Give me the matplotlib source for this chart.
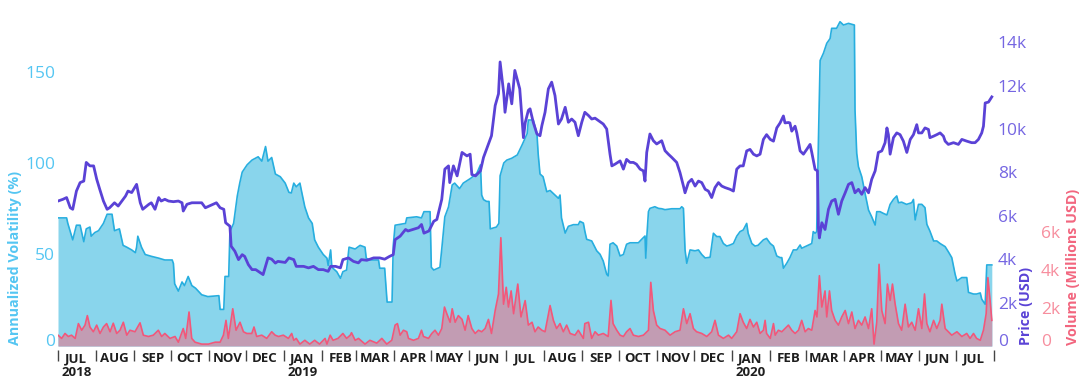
import numpy as np
import pandas as pd
import matplotlib
matplotlib.use('Agg')
import matplotlib.pyplot as plt
from matplotlib.transforms import ScaledTranslation

plt.rcParams['font.family'] = ['Open Sans', 'DejaVu Sans']

start = pd.Timestamp('2018-07-01')

# (days since 2018-07-01, annualized volatility %)
vol_pts = [
    (0, 70), (7, 70), (8, 67), (12, 58), (15, 66), (18, 66), (21, 57), (23, 64), (26, 65), (27, 60),
    (30, 62), (33, 63), (37, 67), (40, 72), (44, 72), (46, 63), (50, 64), (53, 55), (56, 54), (60, 52.5),
    (63, 51), (64, 54), (65, 60), (68, 54), (71, 50), (76, 49), (82, 48), (87, 47), (93, 47), (94, 45),
    (95, 34), (98, 30), (101, 35), (103, 33), (106, 38), (109, 33), (112, 31.6), (117, 28), (122, 27),
    (131, 27.5), (132, 20), (135, 20), (136, 38), (139, 38), (140, 62.5), (143, 67), (146, 82), (148, 89),
    (150, 95), (154, 99), (158, 101.6), (163, 103.4), (166, 101), (169, 109), (171, 101), (174, 103),
    (177, 94), (181, 92.5), (185, 89), (188, 84), (190, 83.6), (192, 89), (194, 87), (197, 89), (198.5, 84),
    (201, 76), (204, 70), (207, 67), (209, 58), (212, 54), (216, 50), (219, 48), (220, 44), (222, 52.5),
    (223, 43), (227, 40.6), (230, 37), (232, 40.6), (235, 41.5), (237, 54), (242, 53), (246, 55), (250, 54),
    (251, 48), (254, 47), (261, 47), (262, 42.5), (266, 42.5), (268, 24), (272, 24), (273, 55), (274.5, 66),
    (283, 67), (284, 70), (292, 70.6), (296, 70), (298, 73.4), (303, 73.4), (304, 43), (306, 41.5), (311, 43),
    (312.5, 53), (315, 70.6), (318, 76), (321, 88), (323, 89), (327, 86), (330, 89), (336, 91.6), (341, 94.3),
    (344, 99), (345, 82.5), (346.5, 80), (349, 79), (351, 79), (352, 64), (357, 65), (359, 67), (360, 93),
    (363, 100), (365.5, 101.6), (369.5, 102.6), (374, 104.4), (378, 110), (382, 116), (383, 123.5),
    (387, 123.5), (390, 116), (391, 105), (392.5, 94), (395, 92.5), (398, 84.3), (400.7, 85), (404.7, 82.5),
    (407.5, 80.7), (408.8, 82.5), (410, 70), (413, 61.7), (415.6, 65.4), (419.7, 66.3), (423.7, 66.3),
    (425, 68.1), (427.8, 67.2), (429, 62.8), (430.5, 58.3), (434.6, 57.4), (438.7, 52), (441.4, 50.1),
    (444, 46.4), (446.8, 39.2), (448, 38.3), (449.5, 55.6), (452, 56.4), (455, 54.6), (457.7, 49.2),
    (460.4, 50), (463, 55.6), (465.8, 56.4), (472.6, 56.4), (475.3, 58.3), (478, 60.1), (478.6, 48),
    (479.5, 60), (480.8, 73.4), (482, 75.2), (486, 76.1), (489, 75.2), (491.6, 75), (494.3, 74.5),
    (499.8, 75), (506.5, 75), (507.9, 76.1), (509.3, 75.2), (510.6, 52.5), (512, 45.2), (514.7, 52.5),
    (518.8, 52), (521.5, 52.5), (524.2, 50), (527, 48.1), (531, 48.5), (533.7, 61.6), (536.4, 59.8),
    (539, 59.8), (541.8, 56), (544.6, 54.6), (547.3, 55.2), (550, 56), (552.7, 60), (555.4, 62.5),
    (558, 63.4), (560.8, 67), (562, 61.6), (565, 56), (567.6, 54.6), (570, 55), (574.4, 58), (577, 58.8),
    (580, 56), (582.6, 54.6), (585.3, 49.2), (588, 48.3), (589.4, 48.3), (590.7, 42.5), (593.4, 45.2),
    (596, 48.3), (598.8, 52.5), (601.6, 52.5), (604.3, 55.2), (605.6, 53.4), (608.4, 54.3), (611, 55.2),
    (613.8, 56), (615, 62.5), (616.5, 61.6), (617.8, 62.5), (619.2, 111.8), (620.6, 156), (623.3, 160),
    (626, 165.4), (628.7, 168), (630, 173.6), (634, 173.6), (636.8, 177.2), (639.6, 175.4), (643.7, 176.3),
    (648.5, 175.4), (649, 129), (650.4, 105.3), (651.8, 98), (654.5, 92.5), (657.2, 83.4), (660, 74.3),
    (662.6, 70.6), (665.4, 66.1), (666.7, 73.4), (669.4, 73.4), (672, 72.5), (675, 71.6), (677.6, 77.4),
    (680.3, 80.1), (683, 82), (684.4, 78.3), (687, 78.6), (691, 77.4), (695.2, 78.3), (696.6, 80.1),
    (698, 68.9), (700.7, 77.4), (703.4, 77.4), (706, 75.6), (707.5, 66.5), (710, 62.8), (713, 57.4),
    (715.6, 57.4), (718.3, 56), (722.4, 54.3), (725, 51.5), (727.8, 48.3), (730.5, 39.3), (732, 35.5),
    (736, 37.4), (740, 37.4), (741.4, 29.3), (745.5, 28.4), (748, 28.4), (751, 29), (752.2, 25.6),
    (755, 22.8), (756.3, 44.3), (760.4, 44.3),
]

# (days since 2018-07-01, price in thousand USD)
price_pts = [
    (0, 6.68), (4, 6.76), (7, 6.84), (10, 6.37), (12, 6.30), (15, 7.14), (18, 7.53), (21, 7.6), (23, 8.46),
    (26, 8.3), (29, 8.3), (31.5, 7.69), (34, 7.22), (37, 6.68), (40, 6.30), (42, 6.37), (46, 6.6), (49, 6.45),
    (52, 6.68), (55, 6.91), (57, 7.14), (60, 7.07), (64, 7.45), (67, 6.6), (69, 6.30), (74, 6.53), (76, 6.6),
    (79, 6.3), (82, 6.84), (84, 6.68), (87, 6.76), (90, 6.68), (94, 6.65), (98, 6.68), (101, 6.6), (102, 6.22),
    (105, 6.53), (109, 6.6), (117, 6.6), (120, 6.37), (125, 6.5), (129, 6.6), (132, 6.37), (135, 6.3),
    (136.5, 5.68), (140, 5.52), (141, 4.6), (144, 4.37), (147, 3.98), (150, 4.21), (152, 4.13), (155, 3.75),
    (158, 3.52), (161, 3.52), (165, 3.37), (167, 3.29), (169, 3.67), (171, 4.06), (174, 4.0), (177, 3.82),
    (179, 3.9), (185, 3.85), (188, 4.06), (192, 3.98), (194, 3.67), (200, 3.67), (204, 3.6), (208, 3.67),
    (212, 3.52), (216, 3.52), (220, 3.44), (222, 3.67), (226, 3.67), (230, 3.6), (232, 3.98), (236.5, 4.06),
    (240.6, 3.9), (244.6, 3.83), (247, 3.98), (251.5, 3.95), (257, 4.06), (262, 4.06), (266, 4.0), (270, 4.13),
    (273, 4.21), (274.5, 4.9), (278.6, 5.06), (283, 5.37), (285, 5.3), (289, 5.37), (293.5, 5.45), (296, 5.6),
    (298, 5.2), (302, 5.3), (306, 5.75), (308.5, 5.83), (312.5, 6.76), (315, 8.15), (318, 8.3), (319, 7.53),
    (322, 8.3), (325, 7.84), (329, 8.92), (333, 8.76), (335.6, 8.84), (337, 7.9), (340, 7.84), (344, 8.07),
    (346.5, 8.69), (350.5, 9.3), (353, 9.69), (356, 11.08), (358.7, 11.62), (360, 13.09), (363, 11.62),
    (364, 10.77), (367, 12.08), (369.5, 11.16), (372, 12.7), (376, 11.85), (379, 9.6), (380.5, 10.3),
    (383, 10.86), (384.4, 10.93), (387, 10.31), (390, 9.77), (392.5, 9.69), (394, 10.15), (396.6, 10.77),
    (399.3, 11.85), (402, 12.16), (404.7, 11.54), (407.5, 10.23), (410, 10.46), (413, 11.0), (415.6, 10.31),
    (418.3, 10.46), (421, 10.31), (423.7, 9.69), (426.5, 10.31), (429, 10.77), (432, 10.62), (434.6, 10.46),
    (437.3, 10.5), (440, 10.39), (444, 10.23), (446.8, 10.0), (449.5, 8.84), (451, 8.3), (453.6, 8.38),
    (457.7, 8.53), (460.4, 8.15), (463, 8.6), (465.8, 8.46), (468.5, 8.46), (471, 8.38), (474, 8.15),
    (476.7, 8.07), (478, 7.6), (479.4, 8.92), (482, 9.77), (484.8, 9.46), (487.5, 9.31), (491.6, 9.46),
    (494.3, 9.0), (497, 8.84), (499.8, 8.69), (503.8, 8.46), (506.5, 7.99), (509.3, 7.37), (510.6, 7.06),
    (513.3, 7.53), (516, 7.68), (518.8, 7.37), (521.5, 7.6), (524.2, 7.53), (527, 7.22), (529.6, 7.14),
    (532.3, 6.84), (535, 7.3), (537.8, 7.53), (540.5, 7.37), (543.2, 7.3), (547.3, 7.22), (550, 7.14),
    (552.7, 8.15), (555.4, 8.3), (558, 8.3), (560.8, 8.99), (563.5, 9.06), (566.3, 8.84), (569, 8.76),
    (571.7, 8.84), (574.4, 9.52), (577, 9.74), (580, 9.52), (582.6, 9.44), (585.3, 10.05), (588, 10.28),
    (590.7, 10.6), (592, 10.28), (594.8, 10.3), (596, 10.28), (597.5, 9.9), (600.2, 10.13), (601.6, 9.82),
    (604.3, 8.99), (607, 8.84), (609.7, 9.06), (612.4, 9.29), (613.8, 8.92), (616.5, 8.14), (618.4, 8.07),
    (619.2, 5.44), (620, 4.98), (622, 5.68), (624.6, 5.37), (627.4, 6.3), (630, 6.68), (632.8, 6.76),
    (635.5, 6.07), (638.2, 6.68), (641, 7.06), (643.7, 7.45), (646.4, 7.53), (649, 7.06), (651.8, 7.22),
    (654.5, 6.99), (657.2, 7.3), (660, 7.06), (662.6, 7.68), (665.4, 8.07), (668, 8.92), (670.8, 8.99),
    (673.5, 9.37), (675, 10.05), (676.2, 9.74), (677.6, 8.84), (680.3, 9.6), (683, 9.82), (685.7, 9.74),
    (688.4, 9.44), (691.2, 8.92), (694, 9.52), (696.6, 9.74), (699.3, 10.2), (700.7, 9.82), (703.4, 9.82),
    (706, 10.05), (708.8, 9.98), (710, 9.6), (713, 9.67), (715.6, 9.74), (718.3, 9.82), (721, 9.67),
    (722.4, 9.44), (725, 9.29), (729.2, 9.37), (733.2, 9.29), (736, 9.52), (740, 9.44), (744, 9.37),
    (746.8, 9.37), (749.5, 9.52), (752.2, 9.82), (753.6, 10.13), (755, 11.2), (757.7, 11.24), (760.4, 11.48),
]

# (days since 2018-07-01, volume in thousand million USD)
volume_pts = [
    (0, 0.57), (3, 0.4), (5.7, 0.66), (8.4, 0.5), (11, 0.57), (14, 0.4), (16.6, 1.18), (19.3, 0.83), (22, 1.1),
    (23.9, 1.6), (26, 1.0), (28.8, 0.75), (31.5, 1.1), (34.2, 0.66), (37, 1.0), (39.6, 1.18), (42.4, 0.75),
    (45, 1.2), (47.8, 0.66), (50.5, 0.83), (53.2, 1.25), (56, 0.57), (58.6, 0.83), (62.7, 0.75), (66.8, 1.22),
    (69.5, 0.57), (73.6, 0.5), (77.6, 0.57), (81.7, 0.83), (84.4, 0.5), (87, 0.66), (91.2, 0.4), (95.3, 0.5),
    (98, 0.2), (102, 0.92), (104, 0.4), (106.7, 1.79), (108.9, 0.4), (111.6, 0.2), (117, 0.1), (122.5, 0.1),
    (128, 0.2), (132, 0.2), (134.7, 0.57), (136.8, 1.35), (138.7, 0.4), (142.3, 1.96), (145, 0.83),
    (148.2, 1.25), (151, 0.75), (153.7, 0.66), (157.8, 0.66), (159.6, 1.0), (161.8, 0.5), (165.9, 0.57),
    (170, 0.4), (174, 0.75), (176.8, 0.57), (179.5, 0.5), (183.5, 0.57), (187.6, 0.4), (190.3, 0.66),
    (192, 0.3), (194, 0.4), (197, 0.1), (201, 0.3), (205, 0.1), (209, 0.3), (213, 0.1), (217.5, 0.4),
    (219, 0.1), (221.6, 0.57), (224, 0.3), (228, 0.4), (232, 0.66), (235, 0.4), (238, 0.57), (239, 0.7),
    (242, 0.3), (244.7, 0.4), (250, 0.1), (254, 0.3), (259.6, 0.15), (263.7, 0.4), (267.7, 0.1), (271.8, 0.3),
    (274.5, 1.1), (276.4, 1.18), (278.6, 0.57), (281.3, 0.83), (284, 0.75), (285.4, 0.4), (289.5, 0.3),
    (293.5, 0.4), (296, 0.83), (297.6, 0.5), (301.7, 0.4), (304.4, 0.66), (307, 0.83), (309.8, 0.57),
    (312.5, 0.92), (314.7, 2.05), (316.6, 1.7), (319.3, 1.25), (321, 1.96), (323.4, 1.25), (326, 1.6),
    (329, 1.4), (331.5, 0.83), (334, 1.6), (337, 0.92), (339.7, 0.66), (342.4, 0.83), (345, 0.75),
    (347.8, 0.92), (350.5, 1.4), (353, 0.66), (356, 1.87), (358.7, 2.74), (360.6, 5.7), (362.8, 2.2),
    (365, 3.09), (366.8, 2.05), (369, 2.9), (371, 1.7), (374.4, 3.26), (377, 1.53), (380.4, 2.39),
    (383, 1.1), (386, 1.25), (388.4, 0.75), (391, 1.0), (394, 0.83), (396.6, 0.75), (400.7, 2.13),
    (403.4, 1.35), (406, 0.92), (408.8, 1.18), (411.5, 0.75), (414.2, 1.1), (417, 0.66), (421, 0.57),
    (423.7, 0.83), (427.8, 0.4), (429, 1.18), (432, 1.25), (434.6, 0.4), (437.3, 0.75), (440, 0.57),
    (444, 0.66), (448, 0.5), (450.3, 2.4), (452, 1.18), (455, 0.83), (457.7, 0.57), (460.4, 0.5), (463, 0.75),
    (465.8, 0.92), (468.5, 0.57), (472.6, 0.5), (476.7, 0.57), (480.8, 0.83), (482.7, 3.35), (484.8, 1.87),
    (487.5, 1.1), (490.3, 0.92), (494.3, 0.83), (498.4, 0.57), (502.5, 0.75), (506.5, 0.83), (509.3, 1.96),
    (512, 1.18), (514.7, 1.7), (517.4, 0.92), (520, 0.75), (524.2, 0.66), (528.3, 0.5), (532.3, 0.75),
    (535, 1.35), (537.8, 0.57), (541.8, 0.4), (546, 0.57), (548.6, 0.4), (552.7, 0.75), (555.4, 1.7),
    (558, 1.25), (560.8, 0.92), (563.5, 1.4), (566.3, 1.0), (569, 1.25), (571.7, 0.66), (574.4, 0.83),
    (575.8, 1.35), (577, 0.66), (580, 0.4), (582.6, 1.18), (584, 0.57), (586.6, 0.83), (589.4, 0.75),
    (592, 0.92), (594.8, 1.1), (597.5, 0.83), (600.2, 0.66), (603, 0.83), (605.6, 1.35), (608.4, 0.75),
    (611, 0.92), (613.8, 0.83), (616.5, 1.87), (618, 1.53), (620, 3.7), (622, 2.05), (624.6, 2.9), (626, 1.53),
    (628.2, 2.9), (630, 1.87), (632.8, 1.35), (635.5, 1.1), (638.2, 1.53), (641, 1.87), (643.7, 1.18),
    (646.4, 1.79), (649, 0.92), (651.8, 1.35), (654.5, 1.1), (657.2, 1.53), (660, 0.92), (662.6, 1.96),
    (664.5, 0.1), (666.7, 1.25), (668.6, 4.3), (670.8, 1.87), (673.5, 1.18), (675.4, 3.26), (677.6, 2.4),
    (679.5, 3.26), (681.7, 2.2), (684.4, 1.18), (687, 0.83), (689.8, 2.2), (692.5, 1.0), (695.2, 1.25),
    (698, 0.83), (700.7, 1.96), (703.4, 0.92), (705.6, 2.74), (707.5, 1.18), (710, 0.75), (713, 1.35),
    (715.6, 0.92), (718.3, 1.35), (719.7, 2.2), (722.4, 0.92), (725, 0.75), (727.8, 0.57), (732, 0.75),
    (736, 0.5), (740, 0.66), (742.7, 0.4), (745.5, 0.66), (748, 0.4), (751, 0.3), (753.6, 0.83), (755.8, 1.7),
    (757.2, 3.6), (759, 2.4), (760.4, 1.35),
]

vol_ticks = [0, 50, 100, 150]
price_ticks = [0, 2, 4, 6, 8, 10, 12, 14]
volume_ticks = [0, 2, 4, 6]


def unzip(pts):
    d, v = zip(*pts)
    return start + pd.to_timedelta(np.array(d), unit='D'), np.array(v)


vol_x, vol_y = unzip(vol_pts)
price_x, price_y = unzip(price_pts)
volu_x, volu_y = unzip(volume_pts)

c_vol_line = '#27aedf'
c_vol_fill = '#89d5ec'
c_vol_txt = '#55c6f2'
c_price = '#5a42d6'
c_price_txt = '#7566e2'
c_volu_line = '#f2577a'
c_volu_fill = '#c29cb3'
c_volu_txt = '#f78e9e'
c_volu_lab = '#f2667f'

fig = plt.figure(figsize=(10.86, 3.79), dpi=100)
W, H = 1086, 379
ax = fig.add_axes([58 / W, 1 - 350 / H, 937 / W, 340 / H])
ax3 = ax.twinx()
ax2 = ax.twinx()

ax.fill_between(vol_x, 0, vol_y, color=c_vol_fill, lw=0)
ax.plot(vol_x, vol_y, color=c_vol_line, lw=1.2)
ax3.fill_between(volu_x, 0, volu_y, color=c_volu_fill, lw=0)
ax3.plot(volu_x, volu_y, color=c_volu_line, lw=1.2)
ax2.plot(price_x, price_y, color=c_price, lw=2.0, solid_joinstyle='round')

# zero sits 4 px above the axis bottom
ax.set_ylim(-4 / 1.83, 336 / 1.83)
ax2.set_ylim(-4 / 21.7, 336 / 21.7)
ax3.set_ylim(-4 / 19.0, 336 / 19.0)
ax.set_xlim(start, pd.Timestamp('2020-08-02'))

for a in (ax, ax2, ax3):
    for s in a.spines.values():
        s.set_visible(False)

ax.set_yticks(vol_ticks)
ax.set_yticklabels([str(v) for v in vol_ticks])
ax.tick_params(axis='y', length=0, pad=2, labelsize=12.5, labelcolor=c_vol_txt)
ax2.set_yticks(price_ticks)
ax2.set_yticklabels(['0' if v == 0 else f'{v}k' for v in price_ticks])
ax2.tick_params(axis='y', length=0, pad=2, labelsize=12.5, labelcolor=c_price_txt)
ax3.set_yticks(volume_ticks)
ax3.set_yticklabels(['0' if v == 0 else f'{v}k' for v in volume_ticks])
ax3.tick_params(axis='y', length=0, pad=33, labelsize=12.5, labelcolor=c_volu_txt)

# lift the zero labels a little, like the original
for a in (ax, ax2, ax3):
    lab = a.get_yticklabels()[0]
    lab.set_transform(lab.get_transform() + ScaledTranslation(0, 6 / 100, fig.dpi_scale_trans))

month_starts = pd.date_range('2018-07-01', '2020-08-01', freq='MS')
mids = month_starts[:-1] + pd.Timedelta(days=15)
years = {(2018, 7): '2018', (2019, 1): '2019', (2020, 1): '2020'}
month_labels = []
for m in month_starts[:-1]:
    lab = m.strftime('%b').upper()
    if (m.year, m.month) in years:
        lab += '\n' + years[(m.year, m.month)]
    month_labels.append(lab)

ax.set_xticks(month_starts)
ax.set_xticklabels([''] * len(month_starts))
ax.set_xticks(mids, minor=True)
ax.set_xticklabels(month_labels, minor=True, fontweight='bold', fontsize=9.5, color='#1e1e1e',
                   linespacing=1.1)
ax.tick_params(axis='x', which='major', length=8, width=1, color='#444444', direction='out', pad=0)
ax.tick_params(axis='x', which='minor', length=0, pad=1.5)

fig.text(15 / W, 1 - 345 / H, 'Annualized Volatility (%)', rotation=90, ha='center', va='bottom',
         fontsize=10.3, fontweight='bold', color=c_vol_txt)
fig.text(1026 / W, 1 - 345 / H, 'Price (USD)', rotation=90, ha='center', va='bottom',
         fontsize=10.3, fontweight='bold', color=c_price)
fig.text(1073 / W, 1 - 345 / H, 'Volume (Millions USD)', rotation=90, ha='center', va='bottom',
         fontsize=10.3, fontweight='bold', color=c_volu_lab)

fig.savefig('out.png', dpi=100)
